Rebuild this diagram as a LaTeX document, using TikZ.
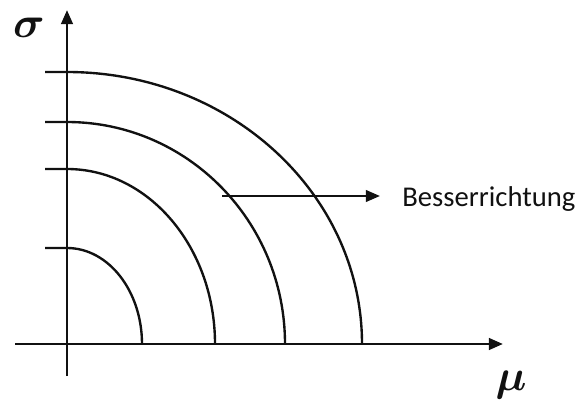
\documentclass[tikz,border=0pt]{standalone}
\usepackage{fontspec}
\setmainfont{Liberation Serif}
\newfontfamily\lblfont{Carlito}
\usetikzlibrary{arrows.meta,positioning}
\definecolor{plotink}{HTML}{111111}
\tikzset{
  axis/.style={line width=1.6pt, color=plotink, -{Triangle[length=8pt, width=6.5pt]}},
  curve/.style={line width=1.35pt, color=plotink},
  arr/.style={line width=1.4pt, color=plotink, -{Triangle[length=8pt, width=6.5pt]}},
  sym/.style={font=\fontsize{34}{36}\selectfont\boldmath, inner sep=0pt, color=plotink},
  lbl/.style={font=\lblfont\fontsize{16.3}{18}\selectfont, inner sep=0pt, color=plotink},
}

\begin{document}
\begin{tikzpicture}[x=0.02cm, y=0.02cm]
    \useasboundingbox (0,0) rectangle (588,403);
    % axes
    \coordinate (o) at (67,59);
    \coordinate (xl) at (15,59);
    \coordinate (xr) at (503,59);
    \coordinate (yb) at (67,27);
    \coordinate (yt) at (67,393);
    \draw[axis] (xl) -- (xr);
    \draw[axis] (yb) -- (yt);
    \node[sym] (sigma) at (29,375) {$\sigma$};
    \node[sym] (mu) at (511,18) {$\mu$};
    % level curves
    \draw[curve] (45,155) -- (67,155) arc[start angle=90, end angle=0, x radius=75, y radius=96];
    \draw[curve] (45,234) -- (67,234) arc[start angle=90, end angle=0, x radius=148, y radius=175];
    \draw[curve] (45,281) -- (67,281) arc[start angle=90, end angle=0, x radius=218, y radius=222];
    \draw[curve] (45,331) -- (67,331) arc[start angle=90, end angle=0, x radius=295, y radius=272];
    % direction
    \node[lbl, anchor=base west] (besser) at (402,197) {Besserrichtung};
    \coordinate (bstart) at (222,207);
    \coordinate (bend) at (380,207);
    \draw[arr] (bstart) -- (bend);
\end{tikzpicture}
\end{document}
